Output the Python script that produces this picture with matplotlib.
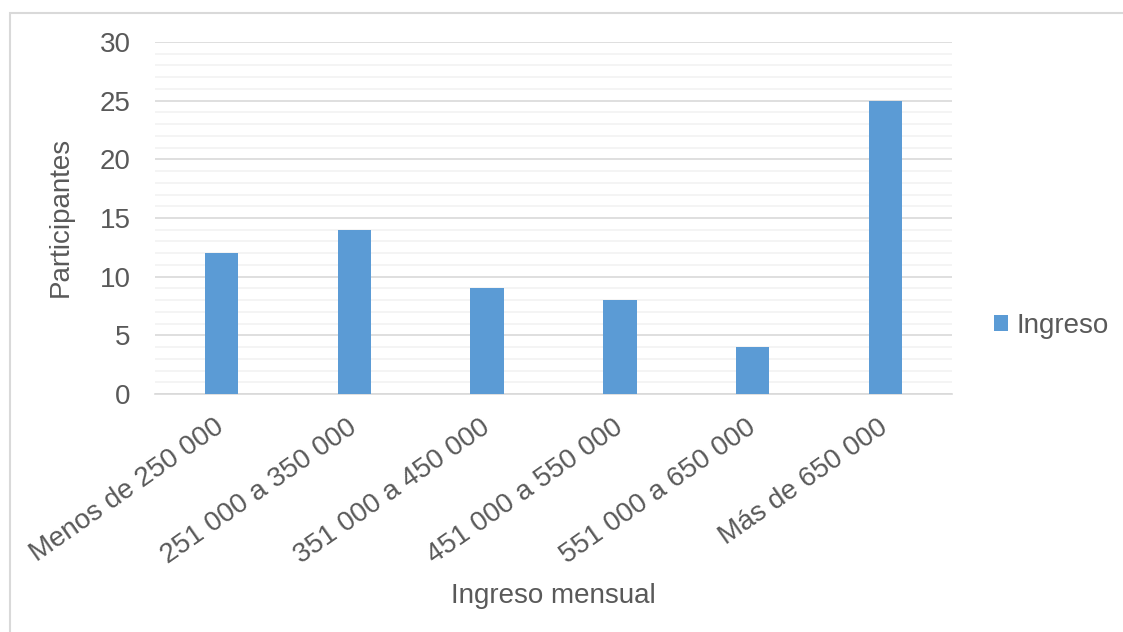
import numpy as np
import matplotlib.pyplot as plt
from matplotlib.patches import Rectangle
from matplotlib.ticker import MultipleLocator

plt.rcParams['font.family'] = ['Liberation Sans', 'DejaVu Sans']

categorias = ["Menos de 250 000", "251 000 a 350 000", "351 000 a 450 000",
              "451 000 a 550 000", "551 000 a 650 000", "Más de 650 000"]
participantes = [12, 14, 9, 8, 4, 25]

txt = '#595959'
azul = '#5B9BD5'
W, H = 1123, 632

fig = plt.figure(figsize=(W / 100, H / 100), dpi=100)
ax = fig.add_axes([155 / W, 1 - 394 / H, (952 - 155) / W, (394 - 42) / H])

x = np.arange(len(categorias))
ax.bar(x, participantes, width=0.25, color=azul, label='Ingreso', zorder=3)

ax.set_xlim(-0.5, len(categorias) - 0.5)
ax.set_ylim(0, 30)
ax.yaxis.set_major_locator(MultipleLocator(5))
ax.yaxis.set_minor_locator(MultipleLocator(1))
ax.grid(which='major', axis='y', color='#D9D9D9', lw=1.2, zorder=0)
ax.grid(which='minor', axis='y', color='#F2F2F2', lw=1.2, zorder=0)
ax.tick_params(which='both', length=0)
ax.tick_params(axis='y', labelsize=20, labelcolor=txt, pad=17.5)
ax.tick_params(axis='x', labelsize=20, labelcolor=txt, pad=22)
for s in ['top', 'right', 'left']:
    ax.spines[s].set_visible(False)
ax.spines['bottom'].set_color('#D9D9D9')
ax.spines['bottom'].set_linewidth(1.2)

ax.set_xticks(x)
ax.set_xticklabels(categorias, rotation=35, ha='right', va='center',
                   rotation_mode='anchor')

# titulos de ejes
fig.text(61 / W, 1 - 217 / H, 'Participantes', rotation=90, ha='center',
         va='center', fontsize=20, color=txt)
fig.text(553 / W, 1 - 603 / H, 'Ingreso mensual', ha='center',
         va='baseline', fontsize=20, color=txt)

leg = fig.legend(loc='center left', bbox_to_anchor=(994 / W, 1 - 326 / H),
                 frameon=False, fontsize=20, labelcolor=txt, borderpad=0,
                 borderaxespad=0, handlelength=0.5, handleheight=0.5,
                 handletextpad=0.3)

# borde del area del grafico
fig.patches.append(Rectangle((10 / W, -0.1), 1.2, 1 - 13 / H + 0.1,
                             transform=fig.transFigure, fill=False,
                             edgecolor='#D9D9D9', lw=1.5))

fig.savefig('out.png', dpi=100)
